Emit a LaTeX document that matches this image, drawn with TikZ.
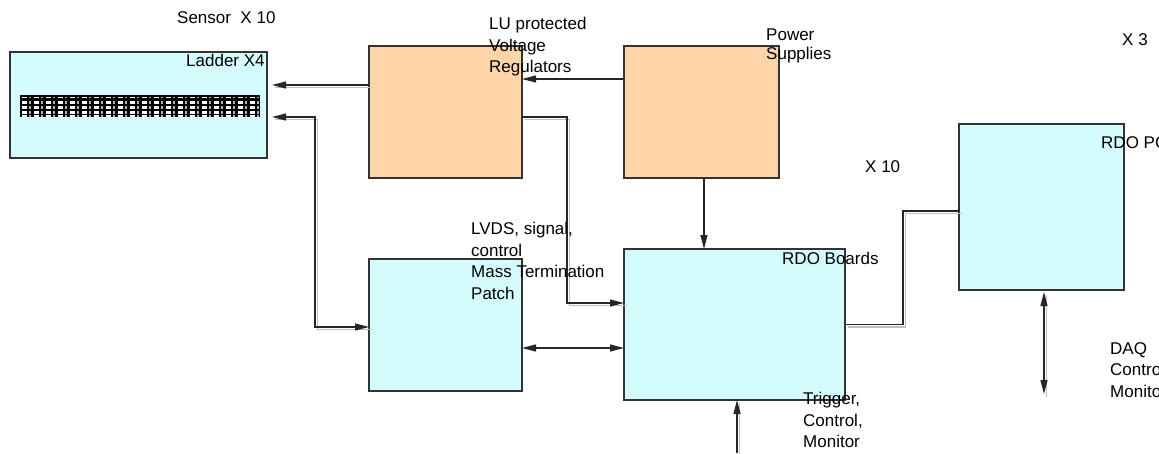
\documentclass[tikz,border=0pt]{standalone}
\usepackage{fontspec}
\setmainfont{Liberation Sans}
\usetikzlibrary{arrows.meta}
\definecolor{boardcyan}{HTML}{D4FCFC}
\definecolor{regpeach}{HTML}{FDD5A8}
\definecolor{edgegray}{HTML}{333333}

\begin{document}
\begin{tikzpicture}[x=1pt,y=-1pt,
    box/.style={draw=edgegray,line width=1.2pt,inner sep=0pt,outer sep=0pt},
    lbl/.style={anchor=north west,inner sep=0pt,align=left,font=\fontsize{17}{21.5}\selectfont},
    tip/.style={-{Triangle[length=14pt,width=7pt]}},
    tips/.style={{Triangle[length=14pt,width=7pt]}-{Triangle[length=14pt,width=7pt]}},
    wire/.style={line width=1.2pt,draw=black!85},
    shadow/.style={wire,preaction={-,draw=black!25,line width=1.2pt,transform canvas={xshift=2.5pt,yshift=-2.5pt}}}]
      \useasboundingbox (0,0) rectangle (1159,453);
      \clip (0,0) rectangle (1159,453);
      \node[box,fill=boardcyan,minimum width=257pt,minimum height=106pt] (ladder) at (138.5,105) {};
      \node[fill=black,inner sep=0pt,minimum width=240pt,minimum height=22pt] (sensor) at (140,106) {};
      \foreach \i in {0,...,19} {
        \foreach \y/\h in {96.5/1.5,100.5/3,105.5/3,110.5/3,115/1.5} {
          \fill[white] (21.5+12*\i,\y) rectangle ++(5.5,\h);
          \fill[gray!60] (29+12*\i,\y) rectangle ++(1.5,\h);
        }
      }
      \node[box,fill=regpeach,minimum width=153pt,minimum height=132pt] (lureg) at (445.5,112) {};
      \node[box,fill=regpeach,minimum width=155pt,minimum height=132pt] (power) at (701.5,112) {};
      \node[box,fill=boardcyan,minimum width=153pt,minimum height=132pt] (mtp) at (445.5,325) {};
      \node[box,fill=boardcyan,minimum width=221pt,minimum height=151pt] (rdo) at (734.5,324.5) {};
      \node[box,fill=boardcyan,minimum width=165pt,minimum height=166pt] (rdopc) at (1041.5,207) {};
      \coordinate (trig) at (737,453);
      \coordinate (daq) at (1044,394);
      \draw[wire,tip] ([yshift=33pt]power.west) -- ([yshift=33pt]lureg.east);
      \draw[shadow,tip,shorten >=5pt] ([yshift=27pt]lureg.west) -- ([yshift=27pt]lureg.west -| ladder.east);
      \draw[shadow,tips,shorten <=5pt] ([yshift=-12pt]ladder.east) -- ++(48,0) |- ([yshift=-2pt]mtp.west);
      \draw[shadow,tip] ([yshift=-5pt]lureg.east) -- ++(45,0) |- ([yshift=21.5pt]rdo.west);
      \draw[wire,tip] ([xshift=2.5pt]power.south) -- ([xshift=2.5pt]power.south |- rdo.north);
      \draw[wire,tips] ([yshift=-23pt]mtp.east) -- ([yshift=-23pt]mtp.east -| rdo.west);
      \draw[shadow,tip] (trig) -- (trig |- rdo.south);
      \draw[shadow] (rdo.east) -- ++(58,0) |- ([yshift=-4pt]rdopc.west);
      \draw[shadow,tips,shorten <=2pt] ([xshift=2.5pt]rdopc.south) -- (daq);
      \node[lbl] (sensorlbl) at (177,11) {Sensor~ X 10};
      \node[lbl] (ladderlbl) at (186,54) {Ladder X4};
      \node[lbl] (lulbl) at (489,17) {LU protected\\Voltage\\Regulators};
      \node[lbl,font=\fontsize{17}{19}\selectfont] (powerlbl) at (766,29) {Power\\Supplies};
      \node[lbl] (x3lbl) at (1122,33) {X 3};
      \node[lbl] (x10lbl) at (865,160) {X 10};
      \node[lbl] (rdopclbl) at (1101,136) {RDO PC};
      \node[lbl] (lvdslbl) at (471,222) {LVDS, signal,\\control\\Mass Termination\\Patch};
      \node[lbl] (rdolbl) at (782,252) {RDO Boards};
      \node[lbl] (triglbl) at (803,392) {Trigger,\\Control,\\Monitor};
      \node[lbl] (daqlbl) at (1110,342) {DAQ\\Control,\\Monitor};
    \end{tikzpicture}
\end{document}
